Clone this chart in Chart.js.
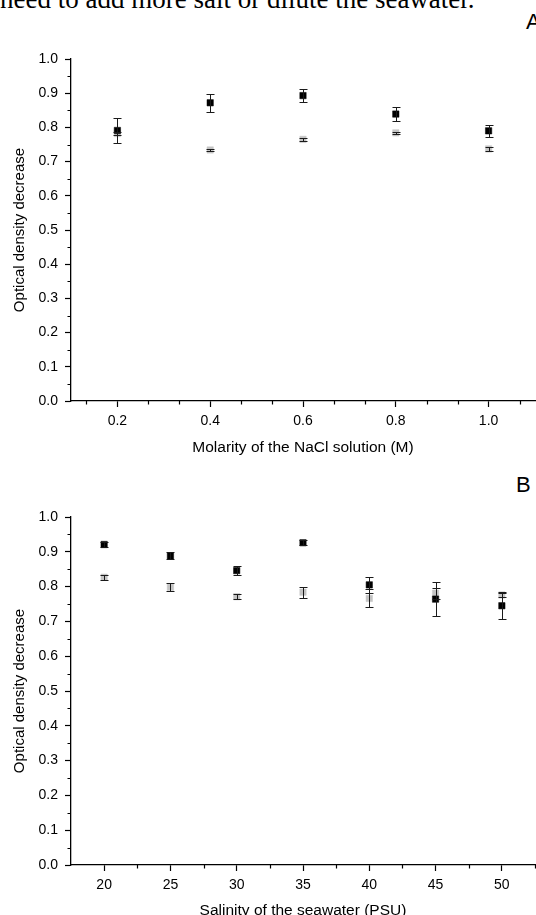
<!DOCTYPE html>
<html>
<head>
<meta charset="utf-8">
<script src="https://cdn.jsdelivr.net/npm/chart.js@4.4.0/dist/chart.umd.min.js"></script>
<style>
  html, body { margin: 0; padding: 0; background: #fff; }
  body { width: 536px; height: 915px; overflow: hidden; position: relative; }
  canvas { position: absolute; left: 0; }
  #chartA { top: 0; }
  #chartB { top: 470px; }
  .panel { position: absolute; font: 22px "Liberation Sans", Arial, sans-serif; line-height: 22px; color: #000; }
  #lead { position: absolute; left: 0; top: -14px; font: 27px "Liberation Serif", "Times New Roman", serif; line-height: 27px; white-space: nowrap; color: #000; }
</style>
</head>
<body>
<div id="lead">need to add more salt or dilute the seawater.</div>
<div class="panel" style="left:526px; top:11px;">A</div>
<div class="panel" style="left:516px; top:474px;">B</div>
<canvas id="chartA" width="540" height="457"></canvas>
<canvas id="chartB" width="540" height="450"></canvas>
<script>
// values
const yTicks = [0.0, 0.1, 0.2, 0.3, 0.4, 0.5, 0.6, 0.7, 0.8, 0.9, 1.0];

// panel A: NaCl molarity
const molarity = [0.2, 0.4, 0.6, 0.8, 1.0];
const aBlack = [0.791, 0.872, 0.893, 0.839, 0.790];
const aBlackErr = [0.036, 0.026, 0.018, 0.021, 0.017];
const aGray = [0.782, 0.734, 0.765, 0.784, 0.737];
const aGrayErr = [0.004, 0.004, 0.004, 0.004, 0.005];
const aXTicks = [0.2, 0.4, 0.6, 0.8, 1.0];

// panel B: seawater salinity
const salinity = [20, 25, 30, 35, 40, 45, 50];
const bBlack = [0.921, 0.888, 0.846, 0.926, 0.805, 0.764, 0.745];
const bBlackErr = [0.007, 0.010, 0.013, 0.007, 0.022, 0.048, 0.039];
const bGray = [0.827, 0.798, 0.771, 0.784, 0.766, 0.781, 0.776];
const bGrayErr = [0.007, 0.011, 0.008, 0.016, 0.026, 0.016, 0.007];
const bXTicks = [20, 25, 30, 35, 40, 45, 50];

const FONT = '"Liberation Sans", Arial, sans-serif';

// error bars drawn on top of the markers
const errorBars = {
    id: 'errorBars',
    afterDatasetsDraw(chart) {
        const ctx = chart.ctx;
        const xs = chart.scales.x, ys = chart.scales.y;
        ctx.save();
        ctx.strokeStyle = '#1a1a1a';
        ctx.lineWidth = 1;
        chart.data.datasets.forEach(ds => {
            ds.data.forEach((p, i) => {
                const e = ds.err[i];
                const x = Math.round(xs.getPixelForValue(p.x)) + 0.5;
                const yt = Math.round(ys.getPixelForValue(p.y + e)) + 0.5;
                const yb = Math.round(ys.getPixelForValue(p.y - e)) + 0.5;
                ctx.beginPath();
                ctx.moveTo(x, yt); ctx.lineTo(x, yb);
                ctx.moveTo(x - 4, yt); ctx.lineTo(x + 4, yt);
                ctx.moveTo(x - 4, yb); ctx.lineTo(x + 4, yb);
                ctx.stroke();
            });
        });
        ctx.restore();
    }
};

// short minor ticks between the labelled ones
const minorTicks = {
    id: 'minorTicks',
    afterDraw(chart, args, opts) {
        const ctx = chart.ctx;
        const xs = chart.scales.x, ys = chart.scales.y;
        const area = chart.chartArea;
        ctx.save();
        ctx.strokeStyle = '#000';
        ctx.lineWidth = 1.2;
        ctx.beginPath();
        opts.x.forEach(v => {
            const px = Math.round(xs.getPixelForValue(v)) + 0.5;
            ctx.moveTo(px, area.bottom); ctx.lineTo(px, area.bottom + 3.5);
        });
        opts.y.forEach(v => {
            const py = Math.round(ys.getPixelForValue(v)) + 0.5;
            ctx.moveTo(area.left, py); ctx.lineTo(area.left - 3.5, py);
        });
        ctx.stroke();
        ctx.restore();
    }
};

function points(xv, yv) {
    return xv.map((x, i) => ({ x: x, y: yv[i] }));
}

function makeChart(id, cfg) {
    const yMinor = yTicks.slice(0, -1).map(v => v + 0.05);
    return new Chart(document.getElementById(id), {
        type: 'scatter',
        data: {
            datasets: [
                { data: points(cfg.xv, cfg.black), err: cfg.blackErr, backgroundColor: '#000', borderColor: '#000',
                  pointStyle: 'rect', pointRadius: 4.5, pointBorderWidth: 0.5 },
                { data: points(cfg.xv, cfg.gray), err: cfg.grayErr, backgroundColor: '#c4c4c4', borderColor: '#c4c4c4',
                  pointStyle: 'rect', pointRadius: 4.5, pointBorderWidth: 0.5 }
            ]
        },
        options: {
            responsive: false,
            animation: false,
            devicePixelRatio: 1,
            layout: { padding: { top: cfg.top, left: 0, right: 0, bottom: 0 } },
            plugins: {
                legend: { display: false },
                tooltip: { enabled: false },
                minorTicks: { x: cfg.xMinor, y: yMinor }
            },
            scales: {
                x: {
                    type: 'linear',
                    min: cfg.xmin,
                    max: cfg.xmax,
                    afterBuildTicks: s => { s.ticks = cfg.xTicks.map(v => ({ value: v })); },
                    afterFit: s => { s.height = cfg.xHeight; },
                    grid: { drawOnChartArea: false, drawTicks: true, tickLength: 6, tickColor: '#000', tickWidth: 1.2 },
                    border: { display: true, color: '#000', width: 1.3 },
                    ticks: {
                        color: '#000', padding: 6, maxRotation: 0,
                        font: { family: FONT, size: 14 },
                        callback: v => cfg.fmt(v)
                    },
                    title: {
                        display: true, text: cfg.xTitle, color: '#000',
                        font: { family: FONT, size: 15.5 }, padding: { top: 0, bottom: 0 }
                    }
                },
                y: {
                    min: 0,
                    max: 1,
                    afterBuildTicks: s => { s.ticks = yTicks.map(v => ({ value: v })); },
                    afterFit: s => { s.width = 71; },
                    grid: { drawOnChartArea: false, drawTicks: true, tickLength: 6, tickColor: '#000', tickWidth: 1.2 },
                    border: { display: true, color: '#000', width: 1.3 },
                    ticks: {
                        color: '#000', padding: 7,
                        font: { family: FONT, size: 14 },
                        callback: v => v.toFixed(1)
                    },
                    title: {
                        display: true, text: 'Optical density decrease', color: '#000',
                        font: { family: FONT, size: 15 }, padding: { top: 11, bottom: 0 }
                    }
                }
            }
        },
        plugins: [errorBars, minorTicks]
    });
}

// minor ticks: A has two between labels, B has one
const aMinor = [];
for (let k = 1; k <= 16; k++) {
    const v = k * 0.2 / 3;
    if (k % 3 !== 0 && v > 0.1 && v < 1.1) aMinor.push(v);
}
const bMinor = [];
for (let v = 22.5; v <= 52.5; v += 5) bMinor.push(v);

makeChart('chartA', {
    xv: molarity, black: aBlack, blackErr: aBlackErr, gray: aGray, grayErr: aGrayErr,
    xTicks: aXTicks, xMinor: aMinor, xmin: 0.1, xmax: 1.1,
    xTitle: 'Molarity of the NaCl solution (M)', fmt: v => v.toFixed(1),
    top: 59, xHeight: 56
});

makeChart('chartB', {
    xv: salinity, black: bBlack, blackErr: bBlackErr, gray: bGray, grayErr: bGrayErr,
    xTicks: bXTicks, xMinor: bMinor, xmin: 17.5, xmax: 52.5,
    xTitle: 'Salinity of the seawater (PSU)', fmt: v => String(v),
    top: 47, xHeight: 55
});
</script>
</body>
</html>
